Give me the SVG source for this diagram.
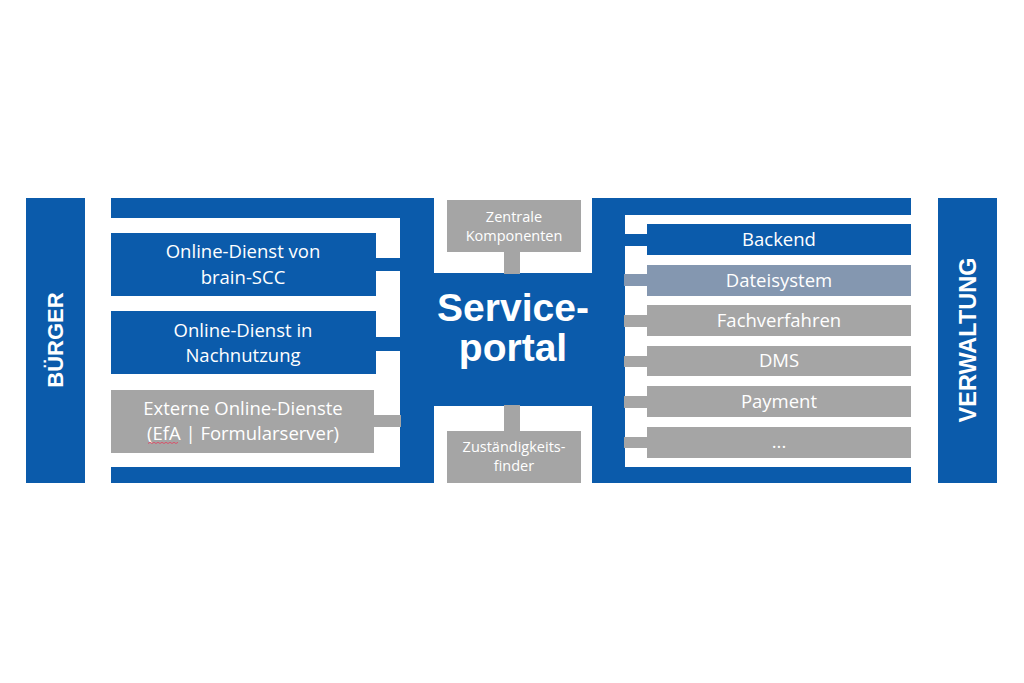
<svg xmlns="http://www.w3.org/2000/svg" width="1024" height="683" viewBox="0 0 1024 683">
<style>
.blue{fill:#0B5BAB}
.grey{fill:#A5A5A5}
.steel{fill:#8497B0}
.t{font-family:"Open Sans","Noto Sans","Liberation Sans",sans-serif;font-size:18.5px;fill:#FFFFFF;text-anchor:middle}
.s{font-family:"Open Sans","Noto Sans","Liberation Sans",sans-serif;font-size:14.5px;fill:#FFFFFF;text-anchor:middle}
.b{font-family:"Liberation Sans","Arial",sans-serif;font-weight:bold;fill:#FFFFFF;text-anchor:middle}
</style>
<rect width="1024" height="683" fill="#FFFFFF"/>
<g id="buerger">
<rect class="blue" x="26" y="198" width="59" height="285"/>
<text class="b" font-size="22" transform="translate(63,340) rotate(-90)">BÜRGER</text>
</g>
<g id="verwaltung">
<rect class="blue" x="938" y="198" width="59" height="285"/>
<text class="b" font-size="23.5" transform="translate(975.5,340) rotate(-90)">VERWALTUNG</text>
</g>
<g id="frames">
<path class="blue" d="M111,198 H434 V483 H111 V467 H400 V218 H111 Z"/>
<path class="blue" d="M592,198 H911 V215 H625 V467 H911 V483 H592 Z"/>
</g>
<g id="serviceportal">
<rect class="blue" x="433" y="273" width="160" height="133"/>
<text class="b" font-size="39" x="513" y="321">Service-</text>
<text class="b" font-size="39" x="513" y="361">portal</text>
</g>
<g id="connectors">
<rect class="blue" x="375" y="258" width="26" height="13"/>
<rect class="blue" x="375" y="337" width="26" height="14"/>
<rect class="grey" x="373" y="415" width="28" height="12"/>
<rect class="grey" x="504" y="251" width="16" height="23"/>
<rect class="grey" x="504" y="405" width="16" height="27"/>
<rect class="blue" x="624" y="234" width="24" height="12"/>
<rect class="steel" x="624" y="274" width="24" height="12"/>
<rect class="grey" x="624" y="315" width="24" height="12"/>
<rect class="grey" x="624" y="356" width="24" height="11"/>
<rect class="grey" x="624" y="396" width="24" height="12"/>
<rect class="grey" x="624" y="437" width="24" height="11"/>
</g>
<g id="online-dienst-brain">
<rect class="blue" x="111" y="233" width="265" height="63"/>
<text class="t" x="243" y="258">Online-Dienst von</text>
<text class="t" x="243" y="284">brain-SCC</text>
</g>
<g id="online-dienst-nachnutzung">
<rect class="blue" x="111" y="311" width="265" height="63"/>
<text class="t" x="243" y="337">Online-Dienst in</text>
<text class="t" x="243" y="362">Nachnutzung</text>
</g>
<g id="externe-dienste">
<rect class="grey" x="111" y="390" width="263" height="63"/>
<text class="t" x="243" y="415">Externe Online-Dienste</text>
<text class="t" x="243" y="440">(EfA | Formularserver)</text>
<path d="M148,443.5 l2,-1.2 l2,1.2 l2,-1.2 l2,1.2 l2,-1.2 l2,1.2 l2,-1.2 l2,1.2 l2,-1.2 l2,1.2 l2,-1.2 l2,1.2 l2,-1.2 l2,1.2 l2,-1.2" fill="none" stroke="#D9536B" stroke-width="1"/>
</g>
<g id="zentrale-komponenten">
<rect class="grey" x="447" y="200" width="134" height="52"/>
<text class="s" x="514" y="222">Zentrale</text>
<text class="s" x="514" y="241">Komponenten</text>
</g>
<g id="zustaendigkeitsfinder">
<rect class="grey" x="447" y="431" width="134" height="52"/>
<text class="s" x="514" y="452">Zuständigkeits-</text>
<text class="s" x="514" y="471">finder</text>
</g>
<g id="backend">
<rect class="blue" x="647" y="224" width="264" height="31"/>
<text class="t" x="779" y="246">Backend</text>
</g>
<g id="dateisystem">
<rect class="steel" x="647" y="265" width="264" height="31"/>
<text class="t" x="779" y="287">Dateisystem</text>
</g>
<g id="fachverfahren">
<rect class="grey" x="647" y="305" width="264" height="31"/>
<text class="t" x="779" y="327">Fachverfahren</text>
</g>
<g id="dms">
<rect class="grey" x="647" y="346" width="264" height="30"/>
<text class="t" x="779" y="367">DMS</text>
</g>
<g id="payment">
<rect class="grey" x="647" y="386" width="264" height="31"/>
<text class="t" x="779" y="408">Payment</text>
</g>
<g id="weitere">
<rect class="grey" x="647" y="427" width="264" height="31"/>
<text class="t" x="779" y="448">...</text>
</g>
</svg>
